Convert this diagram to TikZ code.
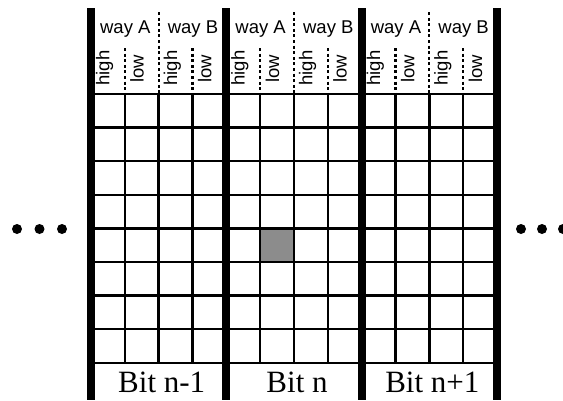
\documentclass[tikz,border=0pt]{standalone}
\usepackage{fontspec}
\setmainfont{Liberation Serif}
\setsansfont{Liberation Sans}
\begin{document}
\begin{tikzpicture}[x=1pt,y=-1pt,
  gridline/.style={line width=2.5pt},
  sepline/.style={line width=2.3pt,dash pattern=on 3pt off 2.6pt},
  bitbar/.style={fill=black},
  waylabel/.style={font=\sffamily\fontsize{18.5}{18.5}\selectfont,anchor=base,inner sep=0pt},
  halflabel/.style={font=\sffamily\fontsize{18.5}{18.5}\selectfont,rotate=90,anchor=base,inner sep=0pt},
  bitlabel/.style={font=\fontsize{31}{31}\selectfont,anchor=base,inner sep=0pt,text depth=0pt},
  dot/.style={fill=black}]
\useasboundingbox (0,0) rectangle (563,400);

% selected cell (section 2, column 1, row 4)
\fill[black!45] (261.2,228.5) rectangle (295.0,262.1);

% horizontal row lines across all three bit slices
\foreach \r in {0,...,8}
  \draw[gridline] (91,94+33.6*\r) -- (497,94+33.6*\r);

\foreach \s/\name in {0/{Bit n-1},1/{Bit n},2/{Bit n+1}} {
  \pgfmathsetmacro\xs{91+135.33*\s}
  % column lines of the array
  \foreach \c in {1,2,3}
    \draw[gridline] (\xs+33.83*\c,94) -- (\xs+33.83*\c,363);
  % dotted separators in the header
  \draw[sepline] (\xs+33.83*2,12) -- (\xs+33.83*2,94);
  \draw[sepline] (\xs+33.83,48) -- (\xs+33.83,94);
  \draw[sepline] (\xs+33.83*3,48) -- (\xs+33.83*3,94);
  % way labels
  \node[waylabel] (wa\s) at (\xs+33.83+0.5,33.5) {way A};
  \node[waylabel] (wb\s) at (\xs+33.83*3+0.5,33.5) {way B};
  % high / low labels
  \node[halflabel] (ha\s) at (\xs+16.9+1.5,68) {high};
  \node[halflabel] (la\s) at (\xs+33.83+16.9+2,69) {low};
  \node[halflabel] (hb\s) at (\xs+33.83*2+16.9+1.5,68) {high};
  \node[halflabel] (lb\s) at (\xs+33.83*3+16.9+2,69) {low};
  % slice caption
  \node[bitlabel] (bit\s) at (\xs+67.7+3,392.5) {\name};
}

% thick slice boundaries
\foreach \i in {0,...,3}
  \fill[bitbar] (91+135.33*\i-4,8) rectangle (91+135.33*\i+4,400);

% ellipses on both sides
\foreach \x in {17,39.5,62}
  \fill[dot] (\x,229) circle (5);
\foreach \x in {521,542,563}
  \fill[dot] (\x,229) circle (5);
\end{tikzpicture}
\end{document}
